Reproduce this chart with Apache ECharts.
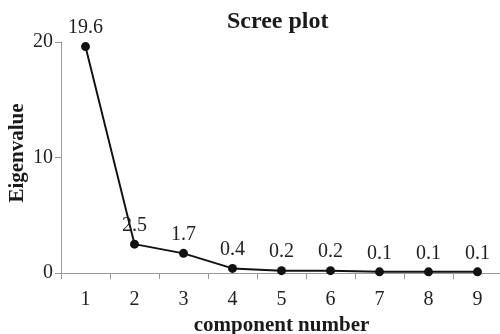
<!DOCTYPE html>
<html><head><meta charset="utf-8">
<script src="https://cdn.jsdelivr.net/npm/echarts@6/dist/echarts.min.js"></script>
<style>html,body{margin:0;padding:0;background:#fff}#c{width:500px;height:334px}</style>
</head><body><div id="c"></div>
<script>
const categories = ['1','2','3','4','5','6','7','8','9'];
const eigenvalues = [19.6, 2.5, 1.7, 0.4, 0.2, 0.2, 0.1, 0.1, 0.1];
const yTicks = [0, 10, 20];

const FONT = '"Liberation Serif", "DejaVu Serif", serif';
const chart = echarts.init(document.getElementById('c'), null, {renderer:'canvas'});
chart.setOption({
  animation: false,
  backgroundColor: '#fff',
  title: {
    text: 'Scree plot', left: 222, top: 5,
    textStyle: {fontFamily: FONT, fontSize: 24, fontWeight: 'bold', color: '#1a1a1a'}
  },
  grid: {left: 61, right: -2, top: 42, bottom: 61, containLabel: false, outerBoundsMode: 'none'},
  xAxis: {
    type: 'category', data: categories, boundaryGap: true,
    name: 'component number', nameLocation: 'middle', nameGap: 42, nameMoveOverlap: false,
    nameTextStyle: {fontFamily: FONT, fontSize: 21, fontWeight: 'bold', color: '#1a1a1a'},
    axisLine: {lineStyle: {color: '#999', width: 1}},
    axisTick: {show: true, length: 6, lineStyle: {color: '#999'}},
    axisLabel: {fontFamily: FONT, fontSize: 20, color: '#222', margin: 17}
  },
  yAxis: {
    type: 'value', min: yTicks[0], max: yTicks[yTicks.length-1], interval: 10,
    name: 'Eigenvalue', nameLocation: 'middle', nameGap: 33, nameRotate: 90, nameMoveOverlap: false,
    nameTextStyle: {fontFamily: FONT, fontSize: 21, fontWeight: 'bold', color: '#1a1a1a', padding: [0, 0, 0, 9]},
    axisLine: {show: true, lineStyle: {color: '#999', width: 1}},
    axisTick: {show: true, length: 6, lineStyle: {color: '#999'}},
    splitLine: {show: false},
    axisLabel: {fontFamily: FONT, fontSize: 20, color: '#222', margin: 8}
  },
  series: [{
    type: 'line', data: eigenvalues,
    symbol: 'circle', symbolSize: 9,
    itemStyle: {color: '#111'},
    lineStyle: {color: '#111', width: 2},
    label: {show: true, position: 'top', distance: 4, fontFamily: FONT, fontSize: 20, color: '#222',
      formatter: p => p.value.toFixed(1)}
  }]
});
</script></body></html>
